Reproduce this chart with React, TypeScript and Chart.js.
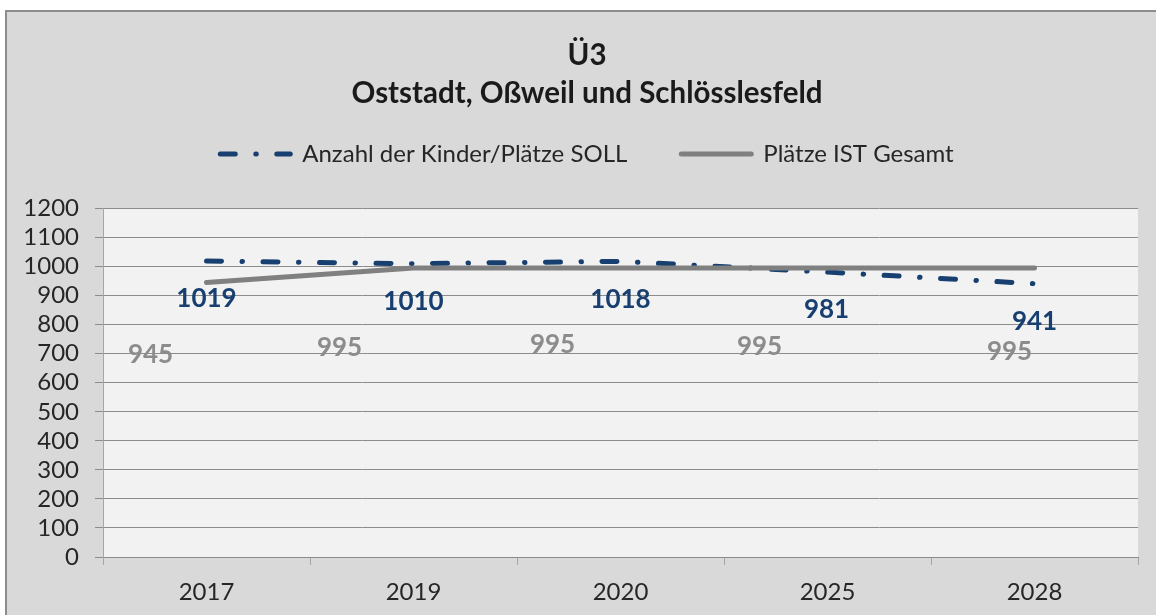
import React, { useEffect, useRef } from 'react';
import { Chart, registerables } from 'chart.js';

Chart.register(...registerables);

// ---- data ----
const categories = ['2017', '2019', '2020', '2025', '2028'];
const sollValues = [1019, 1010, 1018, 981, 941];
const istValues = [945, 995, 995, 995, 995];
const titleLines = ['Ü3', 'Oststadt, Oßweil und Schlösslesfeld'];
const sollName = 'Anzahl der Kinder/Plätze SOLL';
const istName = 'Plätze IST Gesamt';
const yMin = 0;
const yMax = 1200;
const yStep = 100;

// ---- label placement (pixel offsets from each point, as in the original) ----
const sollLabelDx = [0, 0, 0, -1, 0];
const sollLabelDy = [38, 38, 38, 38, 38];
const istLabelDx = [-56, -74, -68, -68, -25];
const istLabelDy = [72, 80, 77, 79, 84];

const FONT = 'Lato';
const SOLL_COLOR = '#173f6f';
const IST_COLOR = '#808080';
const IST_LABEL_COLOR = '#8c8c8c';
const SOLL_DASH = [15, 20.5, 0.5, 20.5];

const plotBg = {
  id: 'plotBg',
  beforeDraw(chart: any) {
    const { ctx, chartArea: a } = chart;
    ctx.save();
    ctx.fillStyle = '#f2f2f2';
    ctx.fillRect(a.left, a.top, a.right - a.left, a.bottom - a.top);
    ctx.restore();
  },
};

const valueLabels = {
  id: 'valueLabels',
  afterDatasetsDraw(chart: any) {
    const { ctx } = chart;
    const cfg = [
      { dx: sollLabelDx, dy: sollLabelDy, color: SOLL_COLOR },
      { dx: istLabelDx, dy: istLabelDy, color: IST_LABEL_COLOR },
    ];
    ctx.save();
    ctx.font = `bold 26px ${FONT}`;
    ctx.textAlign = 'center';
    ctx.textBaseline = 'middle';
    chart.data.datasets.forEach((ds: any, di: number) => {
      const meta = chart.getDatasetMeta(di);
      const c = cfg[di];
      ctx.fillStyle = c.color;
      meta.data.forEach((pt: any, i: number) => {
        ctx.fillText(String(ds.data[i]), pt.x + c.dx[i], pt.y + c.dy[i]);
      });
    });
    ctx.restore();
  },
};

export default function App() {
  const ref = useRef<HTMLCanvasElement>(null);

  useEffect(() => {
    Chart.defaults.font.family = FONT;
    const chart = new Chart(ref.current as HTMLCanvasElement, {
      type: 'line',
      data: {
        labels: categories,
        datasets: [
          {
            label: sollName,
            data: sollValues,
            borderColor: SOLL_COLOR,
            backgroundColor: SOLL_COLOR,
            borderWidth: 5,
            borderDash: SOLL_DASH,
            borderCapStyle: 'round',
            pointRadius: 0,
            tension: 0,
            order: 1,
          },
          {
            label: istName,
            data: istValues,
            borderColor: IST_COLOR,
            backgroundColor: IST_COLOR,
            borderWidth: 5,
            borderCapStyle: 'round',
            pointRadius: 0,
            tension: 0,
            order: 0,
          },
        ],
      },
      options: {
        responsive: false,
        animation: false,
        events: [],
        devicePixelRatio: 1,
        layout: { padding: { left: 0, right: 0, top: 0, bottom: 0 } },
        plugins: {
          tooltip: { enabled: false },
          title: {
            display: true,
            text: titleLines,
            color: '#1a1a1a',
            font: { family: FONT, size: 29.5, weight: 'bold', lineHeight: '38px' },
            padding: { top: 24, bottom: -24 },
          },
          subtitle: {
            display: true,
            text: '',
            weight: 500,
            padding: 0,
            font: { size: 10, lineHeight: '32.5px' },
          },
          legend: {
            display: true,
            position: 'top',
            labels: {
              usePointStyle: true,
              pointStyle: 'line',
              pointStyleWidth: 70,
              padding: 54,
              color: '#262626',
              font: { family: FONT, size: 24 },
              sort: (a: any, b: any) => a.datasetIndex - b.datasetIndex,
              generateLabels: (chart: any) => {
                const base = (Chart.defaults as any).plugins.legend.labels.generateLabels(chart);
                return base.map((item: any) => {
                  const ds = chart.data.datasets[item.datasetIndex];
                  return {
                    ...item,
                    pointStyle: 'line',
                    strokeStyle: ds.borderColor,
                    fillStyle: ds.borderColor,
                    lineWidth: 5,
                    lineDash: ds.borderDash || [],
                    lineDashOffset: 0,
                    lineCap: 'round',
                  };
                });
              },
            },
          },
        },
        scales: {
          x: {
            type: 'category',
            offset: true,
            grid: {
              offset: true,
              drawOnChartArea: false,
              drawTicks: true,
              tickLength: 8,
              color: '#a6a6a6',
            },
            border: { color: '#8c8c8c' },
            ticks: {
              color: '#262626',
              font: { family: FONT, size: 24 },
              padding: 13,
              maxRotation: 0,
            },
            afterFit(s: any) {
              s.height = 65;
            },
          },
          y: {
            position: 'left',
            min: yMin,
            max: yMax,
            ticks: {
              stepSize: yStep,
              autoSkip: false,
              color: '#262626',
              font: { family: FONT, size: 24 },
              padding: 16,
              callback: (v: any) => String(v),
            },
            grid: {
              color: '#8c8c8c',
              tickLength: 8,
              drawTicks: true,
            },
            border: { color: '#a6a6a6' },
            afterFit(s: any) {
              s.width = 96;
            },
          },
          spacerRight: {
            type: 'linear',
            position: 'right',
            display: true,
            grid: { display: false, drawTicks: false },
            ticks: { display: false },
            border: { display: false },
            afterFit(s: any) {
              s.width = 29;
            },
          },
        },
      } as any,
      plugins: [plotBg, valueLabels],
    } as any);
    return () => chart.destroy();
  }, []);

  return (
    <div
      style={{
        position: 'fixed',
        left: 5,
        top: 10,
        width: 1160,
        height: 610,
        background: '#d9d9d9',
        borderLeft: '2px solid #8c8c8c',
        borderTop: '2px solid #8c8c8c',
      }}
    >
      <canvas ref={ref} width={1160} height={610} style={{ display: 'block' }} />
    </div>
  );
}
